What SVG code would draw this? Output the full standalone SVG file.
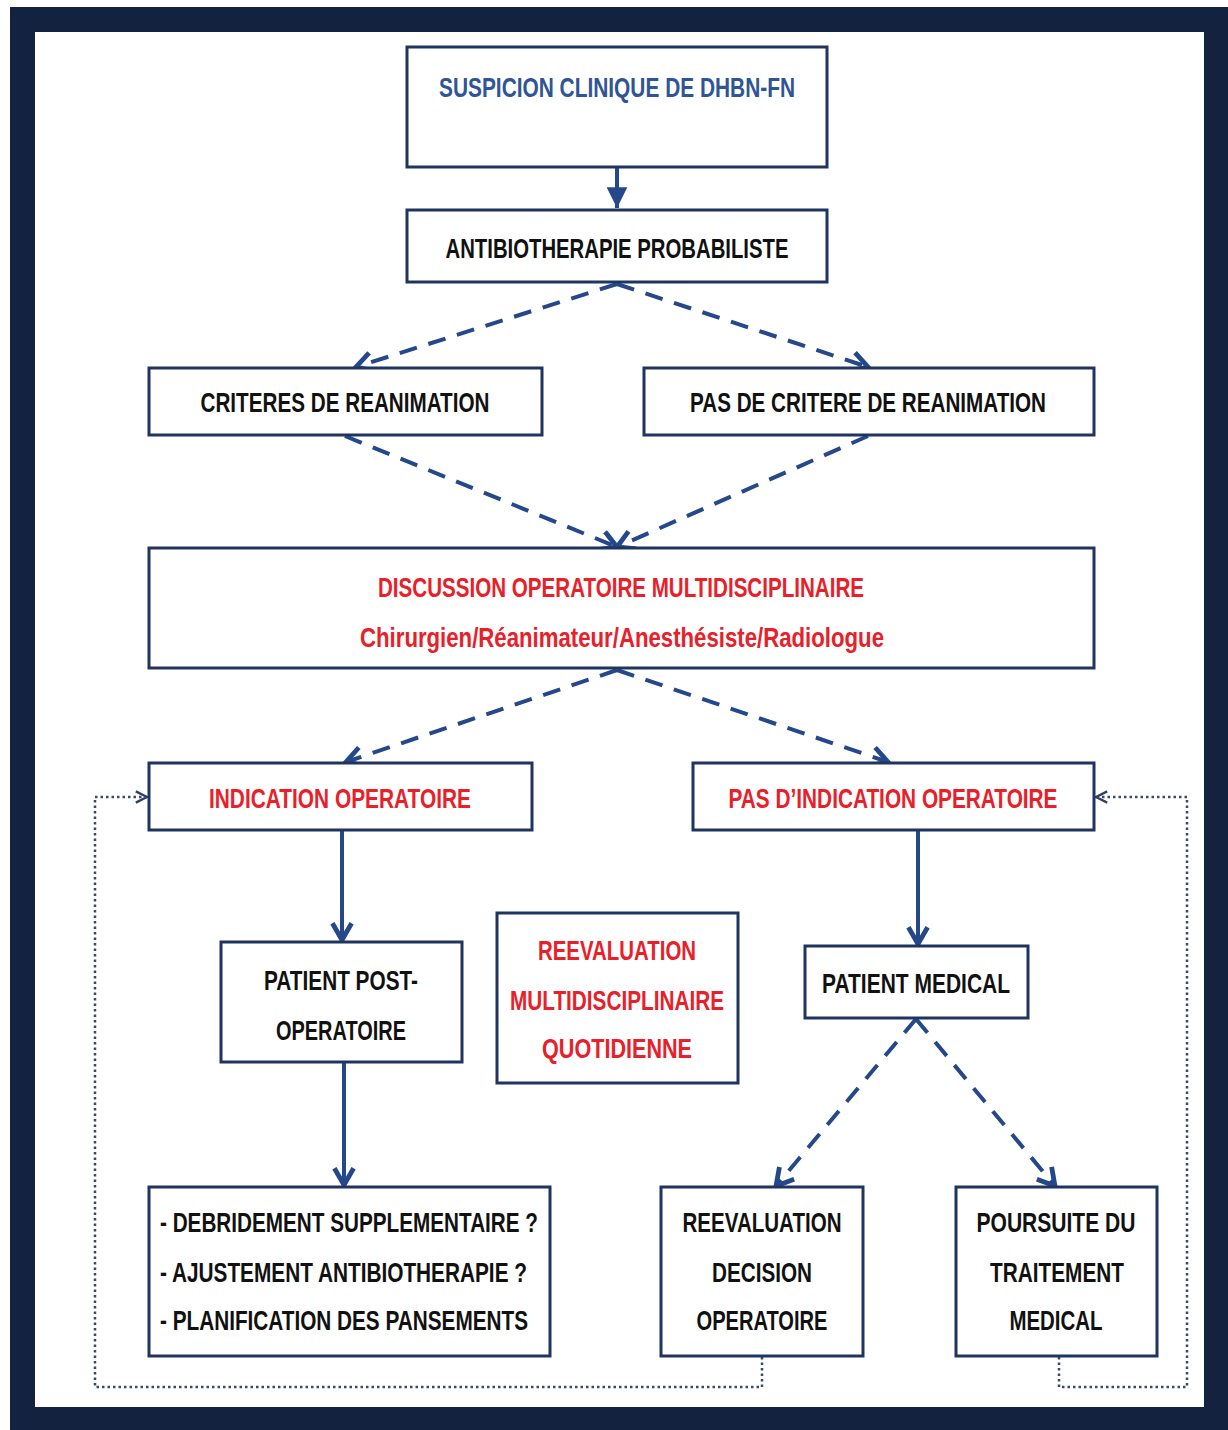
<svg xmlns="http://www.w3.org/2000/svg" width="1228" height="1430" viewBox="0 0 1228 1430">
<style>
.box{fill:#fff;stroke:#1f3560;stroke-width:3}
.t{font-family:"Liberation Sans",Arial,sans-serif;font-weight:bold;font-size:28px;text-anchor:middle}
.k{fill:#111}
.r{fill:#e8202a}
.b{fill:#2f5597}
.solid{stroke:#24488a;stroke-width:4;fill:none}
.dash{stroke:#24488a;stroke-width:4;fill:none;stroke-dasharray:18 12}
.dot{stroke:#3a4a66;stroke-width:2.5;fill:none;stroke-dasharray:2.5 3}
</style>
<defs>
<marker id="v" viewBox="0 0 20 20" refX="18" refY="10" markerWidth="24" markerHeight="24" markerUnits="userSpaceOnUse" orient="auto">
<path d="M4 2 L18 10 L4 18" fill="none" stroke="#24488a" stroke-width="4"/>
</marker>
<marker id="vs" viewBox="0 0 20 20" refX="18" refY="10" markerWidth="16" markerHeight="16" markerUnits="userSpaceOnUse" orient="auto">
<path d="M4 3 L18 10 L4 17" fill="none" stroke="#2f4166" stroke-width="3"/>
</marker>
<marker id="f" viewBox="0 0 20 20" refX="18" refY="10" markerWidth="26" markerHeight="26" markerUnits="userSpaceOnUse" orient="auto">
<path d="M2 2 L18 10 L2 18 Z" fill="#24488a"/>
</marker>
</defs>
<rect x="0" y="0" width="1228" height="1430" fill="#fff"/>
<rect x="10" y="7" width="1218" height="1423" fill="#13233f"/>
<rect x="35" y="32" width="1169" height="1375" fill="#fff"/>

<g id="connectors">
<line class="solid" x1="617" y1="168" x2="617" y2="208" marker-end="url(#f)"/>
<line class="dash" x1="617" y1="284" x2="356" y2="367" marker-end="url(#v)"/>
<line class="dash" x1="617" y1="284" x2="868" y2="367" marker-end="url(#v)"/>
<line class="dash" x1="345" y1="436" x2="617" y2="547" marker-end="url(#v)"/>
<line class="dash" x1="868" y1="436" x2="617" y2="547" marker-end="url(#v)"/>
<line class="dash" x1="617" y1="670" x2="346" y2="762" marker-end="url(#v)"/>
<line class="dash" x1="617" y1="670" x2="888" y2="762" marker-end="url(#v)"/>
<line class="solid" x1="342" y1="831" x2="342" y2="940" marker-end="url(#v)"/>
<line class="solid" x1="918" y1="831" x2="918" y2="944" marker-end="url(#v)"/>
<line class="solid" x1="344" y1="1063" x2="344" y2="1185" marker-end="url(#v)"/>
<line class="dash" x1="916" y1="1019" x2="776" y2="1186" marker-end="url(#v)"/>
<line class="dash" x1="916" y1="1019" x2="1055" y2="1186" marker-end="url(#v)"/>
<polyline class="dot" points="762,1357 762,1387 95,1387 95,797 147,797" marker-end="url(#vs)"/>
<polyline class="dot" points="1059,1357 1059,1387 1187,1387 1187,797 1096,797" marker-end="url(#vs)"/>
</g>

<g id="n1"><rect class="box" x="407" y="47" width="420" height="120"/>
<text class="t b" x="617" y="97" textLength="356" lengthAdjust="spacingAndGlyphs">SUSPICION CLINIQUE DE DHBN-FN</text></g>
<g id="n2"><rect class="box" x="407" y="210" width="420" height="72"/>
<text class="t k" x="617" y="258" textLength="343" lengthAdjust="spacingAndGlyphs">ANTIBIOTHERAPIE PROBABILISTE</text></g>
<g id="n3"><rect class="box" x="149" y="368" width="393" height="67"/>
<text class="t k" x="345" y="412" textLength="289" lengthAdjust="spacingAndGlyphs">CRITERES DE REANIMATION</text></g>
<g id="n4"><rect class="box" x="644" y="368" width="450" height="67"/>
<text class="t k" x="868" y="412" textLength="356" lengthAdjust="spacingAndGlyphs">PAS DE CRITERE DE REANIMATION</text></g>
<g id="n5"><rect class="box" x="149" y="548" width="945" height="120"/>
<text class="t r" x="621" y="597" textLength="486" lengthAdjust="spacingAndGlyphs">DISCUSSION OPERATOIRE MULTIDISCIPLINAIRE</text>
<text class="t r" x="622" y="647" textLength="524" lengthAdjust="spacingAndGlyphs">Chirurgien/Réanimateur/Anesthésiste/Radiologue</text></g>
<g id="n6"><rect class="box" x="149" y="763" width="383" height="67"/>
<text class="t r" x="340" y="808" textLength="262" lengthAdjust="spacingAndGlyphs">INDICATION OPERATOIRE</text></g>
<g id="n7"><rect class="box" x="693" y="763" width="401" height="67"/>
<text class="t r" x="893" y="808" textLength="329" lengthAdjust="spacingAndGlyphs">PAS D’INDICATION OPERATOIRE</text></g>
<g id="n8"><rect class="box" x="221" y="942" width="241" height="120"/>
<text class="t k" x="341" y="990" textLength="154" lengthAdjust="spacingAndGlyphs">PATIENT POST-</text>
<text class="t k" x="341" y="1040" textLength="130" lengthAdjust="spacingAndGlyphs">OPERATOIRE</text></g>
<g id="n9"><rect class="box" x="497" y="913" width="241" height="170"/>
<text class="t r" x="617" y="960" textLength="158" lengthAdjust="spacingAndGlyphs">REEVALUATION</text>
<text class="t r" x="617" y="1010" textLength="214" lengthAdjust="spacingAndGlyphs">MULTIDISCIPLINAIRE</text>
<text class="t r" x="617" y="1058" textLength="150" lengthAdjust="spacingAndGlyphs">QUOTIDIENNE</text></g>
<g id="n10"><rect class="box" x="805" y="946" width="223" height="72"/>
<text class="t k" x="916" y="993" textLength="188" lengthAdjust="spacingAndGlyphs">PATIENT MEDICAL</text></g>
<g id="n11"><rect class="box" x="149" y="1187" width="401" height="169"/>
<text class="t k" x="160" y="1232" style="text-anchor:start" textLength="378" lengthAdjust="spacingAndGlyphs">- DEBRIDEMENT SUPPLEMENTAIRE ?</text>
<text class="t k" x="160" y="1282" style="text-anchor:start" textLength="367" lengthAdjust="spacingAndGlyphs">- AJUSTEMENT ANTIBIOTHERAPIE ?</text>
<text class="t k" x="160" y="1330" style="text-anchor:start" textLength="368" lengthAdjust="spacingAndGlyphs">- PLANIFICATION DES PANSEMENTS</text></g>
<g id="n12"><rect class="box" x="661" y="1187" width="202" height="169"/>
<text class="t k" x="762" y="1232" textLength="159" lengthAdjust="spacingAndGlyphs">REEVALUATION</text>
<text class="t k" x="762" y="1282" textLength="100" lengthAdjust="spacingAndGlyphs">DECISION</text>
<text class="t k" x="762" y="1330" textLength="131" lengthAdjust="spacingAndGlyphs">OPERATOIRE</text></g>
<g id="n13"><rect class="box" x="956" y="1187" width="201" height="169"/>
<text class="t k" x="1056" y="1232" textLength="159" lengthAdjust="spacingAndGlyphs">POURSUITE DU</text>
<text class="t k" x="1057" y="1282" textLength="134" lengthAdjust="spacingAndGlyphs">TRAITEMENT</text>
<text class="t k" x="1056" y="1330" textLength="93" lengthAdjust="spacingAndGlyphs">MEDICAL</text></g>
</svg>
